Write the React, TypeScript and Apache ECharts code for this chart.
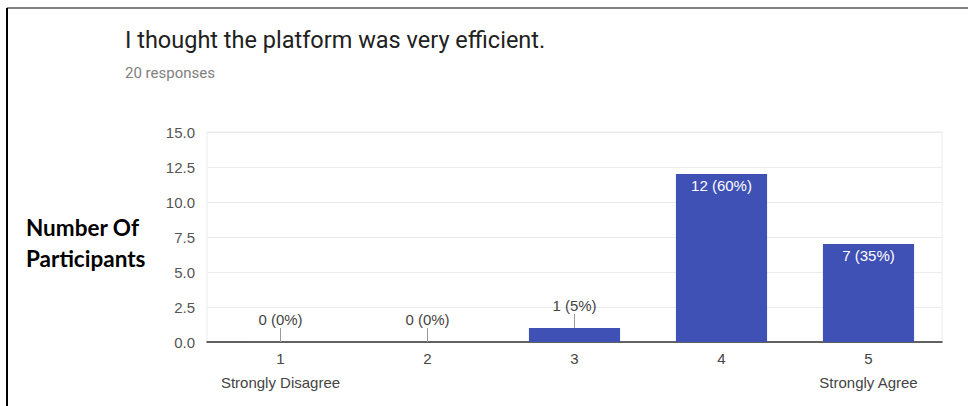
import React, { useEffect, useRef } from "react";
import * as echarts from "echarts";

const categories = ["1", "2", "3", "4", "5"];
const extremeLabels = ["Strongly Disagree", "", "", "", "Strongly Agree"];
const counts = [0, 0, 1, 12, 7];
const percents = [0, 0, 5, 60, 35];
const totalResponses = 20;
const yTicks = [0, 2.5, 5, 7.5, 10, 12.5, 15];

const titleText = "I thought the platform was very efficient.";
const yName = "Number Of\nParticipants";

const FONT = "Liberation Sans, Arial, sans-serif";

export default function App() {
  const ref = useRef<HTMLDivElement>(null);
  useEffect(() => {
    if (!ref.current) return;
    const chart = echarts.init(ref.current, undefined, { renderer: "svg" });
    const labelOf = (i: number) => `${counts[i]} (${percents[i]}%)`;
    const insideThreshold = 3;
    chart.setOption({
      animation: false,
      backgroundColor: "#ffffff",
      title: [
        {
          text: titleText,
          left: 120,
          top: 23,
          textStyle: { fontFamily: "Roboto", fontSize: 23.5, fontWeight: "normal", color: "#212121", lineHeight: 24 },
        },
        {
          text: `${totalResponses} responses`,
          left: 120,
          top: 60,
          textStyle: { fontFamily: "Roboto", fontSize: 15, fontWeight: "normal", color: "#808080", lineHeight: 16 },
        },
        {
          text: yName,
          left: 21,
          top: 207,
          textStyle: { fontFamily: "Lato", fontSize: 22.5, fontWeight: "bold", color: "#000", lineHeight: 31 },
        },
      ],
      graphic: [
        { type: "rect", shape: { x: 7, y: 7, width: 961, height: 2 }, style: { fill: "#808080" } },
        { type: "rect", shape: { x: 6, y: 8, width: 2, height: 398 }, style: { fill: "#000" } },
      ],
      grid: { left: 207, right: 26, top: 132, bottom: 64, show: true, borderColor: "#ebebeb", borderWidth: 1 },
      xAxis: {
        type: "category",
        data: categories,
        axisLine: { show: true, lineStyle: { color: "#333", width: 1.5 } },
        axisTick: { show: false },
        axisLabel: {
          interval: 0,
          hideOverlap: false,
          margin: 4,
          fontFamily: FONT,
          fontSize: 15,
          color: "#444",
          lineHeight: 24,
          formatter: (v: string, i: number) => (extremeLabels[i] ? `${v}\n${extremeLabels[i]}` : v),
        },
      },
      yAxis: {
        type: "value",
        min: yTicks[0],
        max: yTicks[yTicks.length - 1],
        interval: yTicks[1] - yTicks[0],
        axisLine: { show: false },
        axisTick: { show: false },
        splitLine: { lineStyle: { color: "#ebebeb" } },
        axisLabel: {
          margin: 12,
          fontFamily: FONT,
          fontSize: 15,
          color: "#555",
          formatter: (v: number) => v.toFixed(1),
        },
      },
      series: [
        {
          type: "bar",
          data: counts.map((c, i) => ({
            value: c,
            label:
              c >= insideThreshold
                ? { show: true, position: "insideTop", distance: 4, formatter: labelOf(i) }
                : { show: false },
          })),
          barWidth: "62%",
          itemStyle: { color: "#3f51b5" },
          label: { fontFamily: FONT, fontSize: 15, color: "#fff" },
        },
        {
          type: "scatter",
          data: counts.map((c, i) => (c < insideThreshold ? [i, c] : [i, null])),
          symbol: "rect",
          symbolSize: [1, 14],
          symbolOffset: [0, -7],
          itemStyle: { color: "#999", opacity: 1 },
          label: {
            show: true,
            position: "top",
            distance: 1,
            fontFamily: FONT,
            fontSize: 15,
            color: "#444",
            formatter: (p: any) => labelOf(p.dataIndex),
          },
          z: 3,
        },
      ],
    });
    return () => chart.dispose();
  }, []);
  return (
    <div
      ref={ref}
      style={{ position: "absolute", left: 0, top: 0, width: 968, height: 406 }}
    />
  );
}
